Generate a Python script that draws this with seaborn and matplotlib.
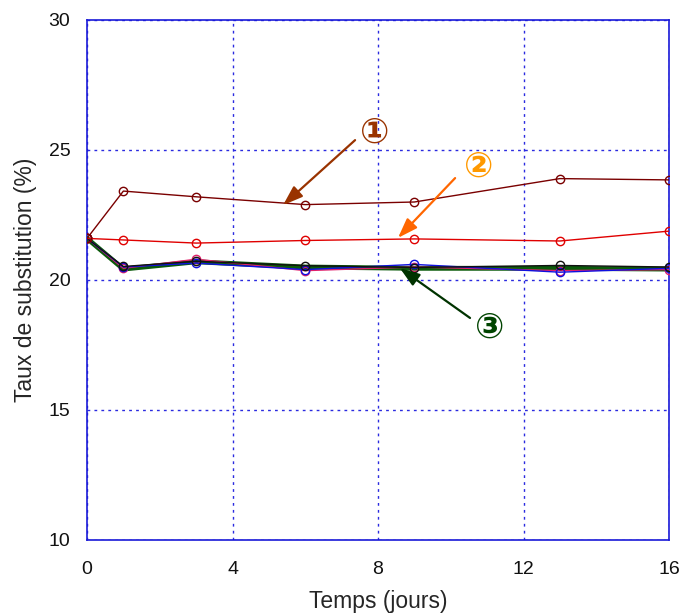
import matplotlib
matplotlib.use("Agg")
import matplotlib.pyplot as plt
import seaborn as sns

# Data
jours = [0, 1, 3, 6, 9, 13, 16]
courbe1 = [21.6, 23.42, 23.2, 22.9, 23.0, 23.9, 23.85]
courbe2 = [21.6, 21.54, 21.42, 21.52, 21.58, 21.5, 21.88]
groupe3_vert = [21.6, 20.42, 20.7, 20.5, 20.45, 20.45, 20.42]
groupe3_rose = [21.6, 20.45, 20.8, 20.36, 20.5, 20.36, 20.4]
groupe3_bleu = [21.6, 20.5, 20.65, 20.4, 20.6, 20.3, 20.45]
groupe3_noir = [21.6, 20.52, 20.72, 20.55, 20.48, 20.56, 20.5]

xticks = [0, 4, 8, 12, 16]
yticks = [10, 15, 20, 25, 30]

sns.set_theme(style="white")
plt.rcParams["font.family"] = ["Liberation Sans", "DejaVu Sans"]

fig = plt.figure(figsize=(6.81, 6.15), dpi=100)
ax = fig.add_axes([87 / 681, 1 - 540 / 615, (669 - 87) / 681, (540 - 20) / 615])

sns.lineplot(x=jours, y=groupe3_vert, ax=ax, color="#0a5a0a", linewidth=3.5, zorder=3)
series = [
    (groupe3_rose, "#e0206a"),
    (groupe3_bleu, "#1010e0"),
    (groupe3_noir, "#111111"),
    (courbe2, "#e00000"),
    (courbe1, "#7a0000"),
]
for ys, c in series:
    sns.lineplot(x=jours, y=ys, ax=ax, color=c, linewidth=1.0, marker="o",
                 markersize=6, markerfacecolor="none", markeredgecolor=c,
                 markeredgewidth=1.0, zorder=4)

ax.set_xlim(0, 16)
ax.set_ylim(10, 30)
ax.set_xticks(xticks)
ax.set_yticks(yticks)
ax.tick_params(axis="x", length=0, labelsize=14, pad=15, colors="#111111")
ax.tick_params(axis="y", length=0, labelsize=14, pad=12, colors="#111111")
ax.grid(True, color="#2a2ae0", linestyle=(0, (2, 3)), linewidth=1.0)
for s in ax.spines.values():
    s.set_color("#1a1ad8")
    s.set_linewidth(1.2)
ax.set_xlabel("Temps (jours)", fontsize=16.5, labelpad=9)
ax.set_ylabel("Taux de substitution (%)", fontsize=16.5, labelpad=8)

fam = ["DejaVu Sans", "Noto Sans CJK JP"]
ann = [
    ("\u2460", (7.92, 25.65), (7.37, 25.38), (5.39, 22.88), "#993300", "#993300"),
    ("\u2461", (10.78, 24.35), (10.12, 23.92), (8.55, 21.62), "#ff9900", "#ff6600"),
    ("\u2462", (11.08, 18.15), (10.53, 18.54), (8.6, 20.46), "#004400", "#003300"),
]
for txt, tpos, tail, head, tc, ac in ann:
    ax.text(tpos[0], tpos[1], txt, fontsize=25, fontweight="bold", color=tc,
            family=fam, ha="center", va="center", zorder=6)
    ax.annotate("", xy=head, xytext=tail,
                arrowprops=dict(arrowstyle="-|>,head_length=1.0,head_width=0.35",
                                color=ac, linewidth=1.6, shrinkA=0, shrinkB=0),
                zorder=6)

fig.savefig("out.png", dpi=100)
